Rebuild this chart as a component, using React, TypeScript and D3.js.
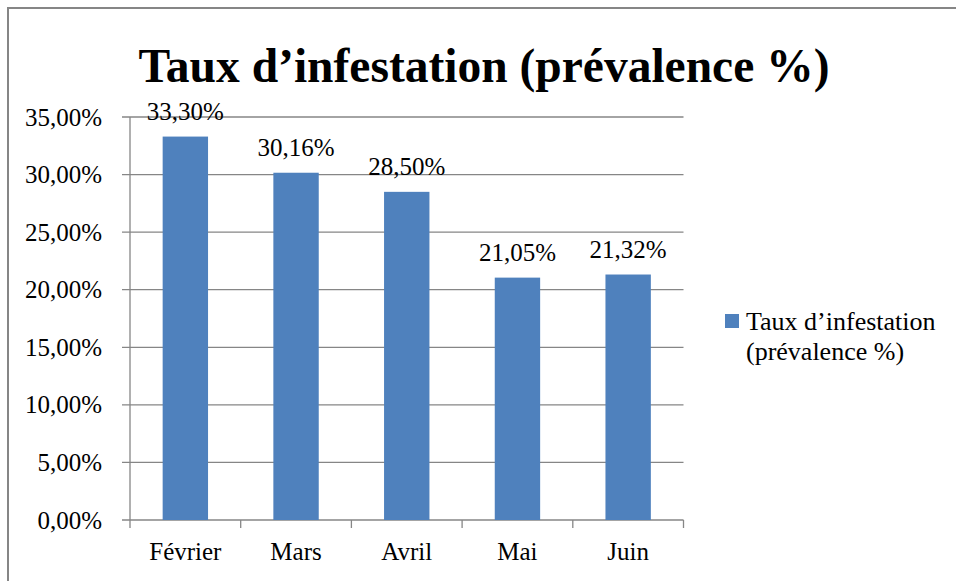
import React, { useEffect, useRef } from "react";
import * as d3 from "d3";

const months = ["Février", "Mars", "Avril", "Mai", "Juin"];
const prevalence = [33.3, 30.16, 28.5, 21.05, 21.32];
const yTicks = [0, 5, 10, 15, 20, 25, 30, 35];
const seriesName = ["Taux d’infestation", "(prévalence %)"];
const title = "Taux d’infestation (prévalence %)";

const frLocale = d3.formatLocale({
  decimal: ",",
  thousands: " ",
  grouping: [3],
  currency: ["", " €"],
});
const pct = frLocale.format(".2%");

export default function App() {
  const svgRef = useRef<SVGSVGElement>(null);

  useEffect(() => {
    const width = 956;
    const height = 581;
    const font = "'Liberation Serif', 'Times New Roman', serif";
    const grid = "#868686";

    const svg = d3.select(svgRef.current);
    svg.selectAll("*").remove();

    // outer frame (top + left visible)
    svg.append("rect")
      .attr("x", 0).attr("y", 0)
      .attr("width", width).attr("height", height)
      .attr("fill", "#fff");
    svg.append("path")
      .attr("d", `M8,${height + 5} L8,8 L${width + 5},8`)
      .attr("fill", "none")
      .attr("stroke", grid)
      .attr("stroke-width", 2);

    // ---------------- scales ----------------
    const x = d3.scaleBand().domain(months).range([130, 683.5]);
    const y = d3.scaleLinear().domain([0, 35]).range([520, 117]);
    const barW = x.bandwidth() * 0.41;

    // ---------------- title ----------------
    svg.append("text")
      .attr("x", 484)
      .attr("y", 82)
      .attr("text-anchor", "middle")
      .style("font-family", font)
      .attr("font-weight", "bold")
      .attr("font-size", 47.5)
      .attr("fill", "#000")
      .text(title);

    // ---------------- grid + y ticks ----------------
    svg.append("g")
      .selectAll("line")
      .data(yTicks)
      .join("line")
      .attr("x1", 122)
      .attr("x2", 683.5)
      .attr("y1", d => y(d))
      .attr("y2", d => y(d))
      .attr("stroke", grid)
      .attr("stroke-width", 1.3);

    svg.append("g")
      .selectAll("text")
      .data(yTicks)
      .join("text")
      .attr("x", 102)
      .attr("y", d => y(d) + 8.5)
      .attr("text-anchor", "end")
      .style("font-family", font)
      .attr("font-size", 25)
      .attr("fill", "#000")
      .text(d => pct(d / 100));

    // ---------------- axes ----------------
    svg.append("line")
      .attr("x1", 130).attr("x2", 130)
      .attr("y1", y(35)).attr("y2", y(0))
      .attr("stroke", grid).attr("stroke-width", 1.3);

    const bounds = [...months.map(m => x(m) as number), 683.5];
    svg.append("g")
      .selectAll("line")
      .data(bounds)
      .join("line")
      .attr("x1", d => d).attr("x2", d => d)
      .attr("y1", y(0)).attr("y2", y(0) + 8)
      .attr("stroke", grid).attr("stroke-width", 1.3);

    svg.append("g")
      .selectAll("text")
      .data(months)
      .join("text")
      .attr("x", d => (x(d) as number) + x.bandwidth() / 2)
      .attr("y", 560)
      .attr("text-anchor", "middle")
      .style("font-family", font)
      .attr("font-size", 25)
      .attr("fill", "#000")
      .text(d => d);

    // ---------------- bars ----------------
    const rows = months.map((m, i) => ({ m, v: prevalence[i] }));
    svg.append("g")
      .selectAll("rect")
      .data(rows)
      .join("rect")
      .attr("x", d => (x(d.m) as number) + (x.bandwidth() - barW) / 2)
      .attr("y", d => y(d.v))
      .attr("width", barW)
      .attr("height", d => y(0) - y(d.v))
      .attr("fill", "#4F81BD");

    svg.append("g")
      .selectAll("text")
      .data(rows)
      .join("text")
      .attr("x", d => (x(d.m) as number) + x.bandwidth() / 2)
      .attr("y", d => y(d.v) - 17)
      .attr("text-anchor", "middle")
      .style("font-family", font)
      .attr("font-size", 25)
      .attr("fill", "#000")
      .text(d => pct(d.v / 100));

    // ---------------- legend ----------------
    svg.append("rect")
      .attr("x", 725).attr("y", 314)
      .attr("width", 14).attr("height", 14)
      .attr("fill", "#4F81BD");

    svg.append("g")
      .selectAll("text")
      .data(seriesName)
      .join("text")
      .attr("x", 746)
      .attr("y", (d, i) => 330 + i * 30)
      .style("font-family", font)
      .attr("font-size", 26)
      .attr("fill", "#000")
      .text(d => d);
  }, []);

  return (
    <svg
      ref={svgRef}
      width={956}
      height={581}
      style={{ position: "absolute", left: 0, top: 0, display: "block" }}
    />
  );
}
